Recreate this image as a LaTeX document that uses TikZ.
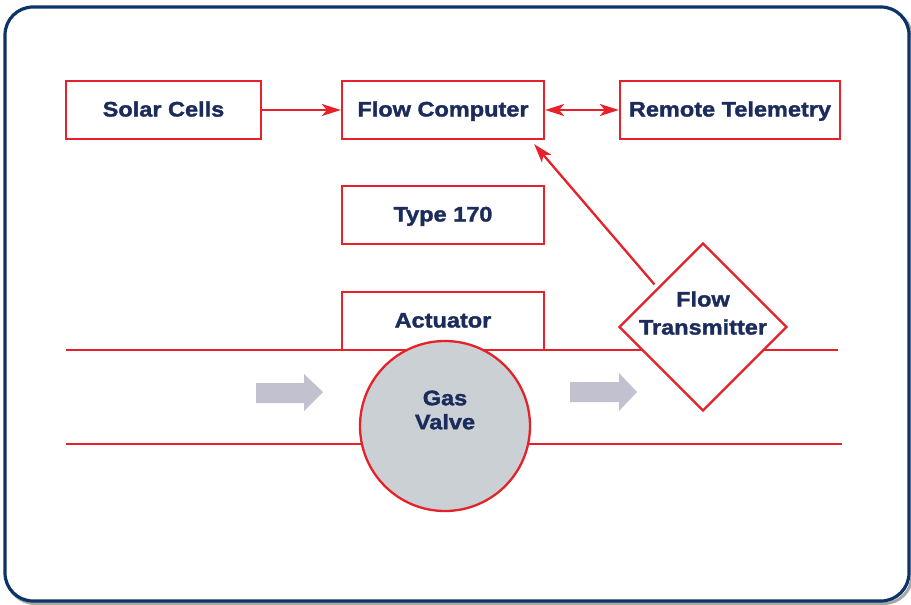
\documentclass[tikz,border=0pt]{standalone}
\usepackage{fontspec}
\setmainfont{Liberation Sans}[FakeStretch=1.12,FakeBold=1.6]
\usetikzlibrary{shapes.geometric,arrows.meta,calc}
\definecolor{rd}{HTML}{E52229}
\definecolor{navy}{HTML}{1B2C5C}
\definecolor{frame}{HTML}{0B3468}
\definecolor{valve}{HTML}{CBD0D5}
\definecolor{flow}{HTML}{C2C1D0}
\begin{document}
\begin{tikzpicture}[x=1pt,y=-1pt,
  box/.style={draw=rd,line width=2.3pt,fill=white,minimum width=202pt,minimum height=58pt,inner sep=0pt,
    font=\fontsize{21}{25}\selectfont\bfseries,text=navy,text height=15pt,text depth=2pt},
  lbl/.style={font=\fontsize{21}{31}\selectfont\bfseries,text=navy,align=center},
  conn/.style={draw=rd,line width=2.3pt,-{Stealth[length=19pt,width=12pt,inset=5pt]}},
  pipe/.style={draw=rd,line width=2.3pt},
  flowarrow/.style={fill=flow,draw=none}]
\useasboundingbox (0,0) rectangle (911,605);
% frame with shadow
\draw[line width=3pt,draw=gray!70,rounded corners=28pt] (7,10) rectangle (912,603.5);
\draw[line width=3.2pt,draw=frame,fill=white,rounded corners=28pt] (5,7) rectangle (909,601);
% pipe
\draw[pipe] (66,350) -- (838,350);
\draw[pipe] (66,444) -- (842,444);
% flow arrows
\fill[flowarrow] (256,383) -- (304,383) -- (304,374) -- (323,392) -- (304,411) -- (304,403) -- (256,403) -- cycle;
\fill[flowarrow] (570,382) -- (619,382) -- (619,373) -- (637,392) -- (619,411) -- (619,402) -- (570,402) -- cycle;
% boxes
\node[box,minimum width=195pt] (sc) at (163.5,110) {Solar Cells};
\node[box] (fc) at (443,110) {Flow Computer};
\node[box,minimum width=220pt] (rt) at (730,110) {Remote Telemetry};
\node[box] (ty) at (443,215) {Type 170};
\node[box] (ac) at (443,321) {Actuator};
% valve
\node[circle,draw=rd,line width=2.3pt,fill=valve,minimum size=170pt,inner sep=0pt,lbl] (gv) at (445,426) {};
\node[lbl] at (445,410) {Gas\\[-7pt]Valve};
% flow transmitter
\node[diamond,draw=rd,line width=2.3pt,fill=white,minimum width=168pt,minimum height=168pt,inner sep=0pt] (ft) at (703,327) {};
\node[lbl] at (703,313) {Flow\\[-3pt]Transmitter};
% connectors
\draw[conn] (sc.east) -- (fc.west);
\draw[draw=rd,line width=2.3pt,{Stealth[length=19pt,width=12pt,inset=5pt]}-{Stealth[length=19pt,width=12pt,inset=5pt]}] (fc.east) -- (rt.west);
\coordinate (ftin) at ($(ft.north west)+(-6,0)$);
\coordinate (fcin) at ($(fc.south east)+(-11,4)$);
\draw[conn] (ftin) -- (fcin);
\end{tikzpicture}
\end{document}
